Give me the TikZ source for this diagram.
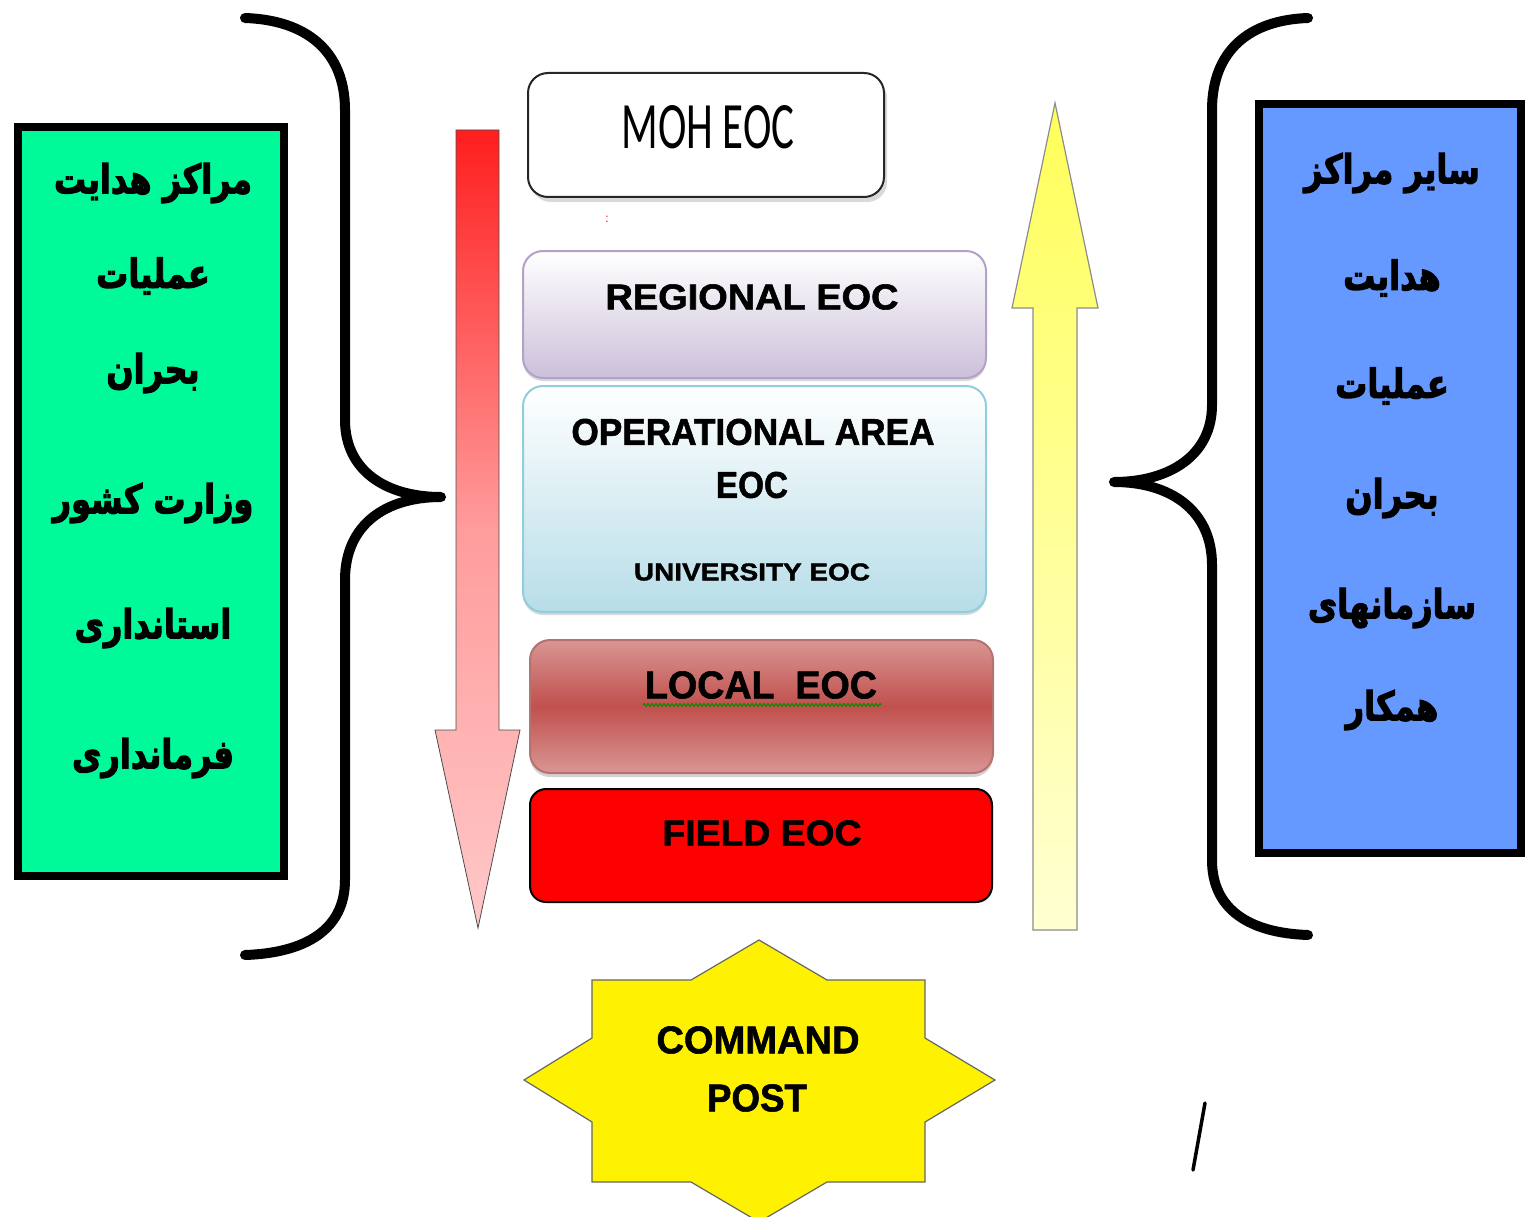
\documentclass[tikz,border=0pt]{standalone}
\usepackage{fontspec}
\usepackage{graphicx}
\setmainfont{Liberation Sans}
\newfontfamily\arabicfont{DejaVu Sans}[Script=Arabic, BoldFeatures={FakeBold=3}]
\newfontfamily\heavy{Liberation Sans}[BoldFeatures={FakeBold=1.5}]
\newfontfamily\calfont{Carlito}
\TeXXeTstate=1
\usetikzlibrary{shadows,decorations.pathmorphing}
\definecolor{boxgreen}{HTML}{00FA9A}
\definecolor{boxblue}{HTML}{6699FF}
\definecolor{lavender}{HTML}{CCC0DA}
\definecolor{lavedge}{HTML}{B3A2C7}
\definecolor{lblue}{HTML}{B7DDE8}
\definecolor{lbedge}{HTML}{92CDDC}
\definecolor{locmid}{HTML}{C0504D}
\definecolor{loclight}{HTML}{D99694}
\definecolor{locedge}{HTML}{943634}
\definecolor{arrred}{HTML}{FF1E1E}
\definecolor{arrpink}{HTML}{FFC8C8}
\definecolor{arrmid}{HTML}{FF9C9C}
\definecolor{arryel}{HTML}{FFFF5A}
\definecolor{arrpale}{HTML}{FFFFD2}
\newcommand{\fitbox}[3]{\resizebox{#1pt}{#2pt}{\heavy\bfseries #3}}
\newcommand{\artext}[1]{\scalebox{1}[1.25]{\arabicfont\bfseries\fontsize{32}{36}\selectfont\beginR #1\endR}}
\begin{document}
\begin{tikzpicture}[x=1pt,y=-1pt,
  sidebox/.style={draw=black, line width=8pt, inner sep=0pt},
  eocbox/.style={rounded corners=20pt, inner sep=0pt, line width=2pt},
  lbl/.style={inner sep=0pt},
  ar/.style={inner sep=0pt},
  brace/.style={line width=10pt, line cap=round, line join=round}]
\useasboundingbox (0,0) rectangle (1528,1217);

% side boxes
\node[sidebox, fill=boxgreen, minimum width=266pt, minimum height=749pt] (gbox) at (151,501.5) {};
\node[sidebox, fill=boxblue, minimum width=262pt, minimum height=749pt] (bbox) at (1390,478.5) {};

% Arabic texts left
\node[ar] (g1) at (153,183) {\artext{مراکز هدایت}};
\node[ar] (g2) at (153,276) {\artext{عملیات}};
\node[ar] (g3) at (153,373) {\artext{بحران}};
\node[ar] (g4) at (153,503) {\artext{وزارت کشور}};
\node[ar] (g5) at (153,628) {\artext{استانداری}};
\node[ar] (g6) at (153,758) {\artext{فرمانداری}};
% Arabic texts right
\node[ar] (b1) at (1392,173) {\artext{سایر مراکز}};
\node[ar] (b2) at (1392,278) {\artext{هدایت}};
\node[ar] (b3) at (1392,386) {\artext{عملیات}};
\node[ar] (b4) at (1392,498) {\artext{بحران}};
\node[ar] (b5) at (1392,608) {\artext{سازمانهای}};
\node[ar] (b6) at (1392,710) {\artext{همکار}};

% braces
\draw[brace] (245,18) .. controls (305,20) and (345,50) .. (345,110)
  -- (345,420) .. controls (345,470) and (385,497) .. (441,497)
  .. controls (385,497) and (345,525) .. (345,580)
  -- (345,880) .. controls (345,930) and (305,953) .. (245,955);
\draw[brace] (1308,18) .. controls (1250,20) and (1212,50) .. (1212,110)
  -- (1212,405) .. controls (1212,455) and (1170,482) .. (1114,482)
  .. controls (1170,482) and (1212,510) .. (1212,565)
  -- (1212,860) .. controls (1212,910) and (1250,933) .. (1308,935);

% arrows
\path[draw=black!70, line width=0.8pt, top color=arrred, bottom color=arrpink, middle color=arrmid]
  (456,130) -- (499,130) -- (499,730) -- (520,730) -- (478,928) -- (435,730) -- (456,730) -- cycle;
\path[draw=black!45, line width=1.2pt, top color=arryel, bottom color=arrpale]
  (1055,103) -- (1098,308) -- (1077,308) -- (1077,930) -- (1033,930) -- (1033,308) -- (1012,308) -- cycle;

% EOC boxes
\node[eocbox, draw=black!85, fill=white, minimum width=356pt, minimum height=124pt,
  drop shadow={opacity=0.3, shadow xshift=3pt, shadow yshift=-5pt}] (moh) at (706,135) {};
\node[inner sep=0pt] (mohtxt) at (708,127) {\resizebox{173pt}{43pt}{\calfont MOH EOC}};
\node[text=red, font=\fontsize{12}{12}\selectfont, inner sep=0pt] (dots) at (607,219) {:};

\node[eocbox, draw=lavedge, top color=white, bottom color=lavender, minimum width=463pt, minimum height=127pt,
  drop shadow={opacity=0.3, shadow xshift=0pt, shadow yshift=-3pt}] (reg) at (754.5,314.5) {};
\node[lbl] (regtxt) at (752,297) {\fitbox{293}{25}{REGIONAL EOC}};

\node[eocbox, draw=lbedge, top color=white, bottom color=lblue, minimum width=463pt, minimum height=226pt,
  drop shadow={opacity=0.3, shadow xshift=0pt, shadow yshift=-3pt}] (opa) at (754.5,499) {};
\node[lbl] (opa1) at (753,432) {\fitbox{363}{26}{OPERATIONAL AREA}};
\node[lbl] (opa2) at (752,485) {\fitbox{72}{26}{EOC}};
\node[lbl] (opa3) at (752,572) {\fitbox{236}{17}{UNIVERSITY EOC}};

\node[eocbox, draw=locedge!70, top color=loclight, bottom color=loclight, middle color=locmid, minimum width=463pt, minimum height=133pt,
  drop shadow={opacity=0.35, shadow xshift=0pt, shadow yshift=-4pt}] (loc) at (761.5,706.5) {};
\node[lbl] (loctxt) at (761,685) {\fitbox{232}{27}{LOCAL\ \ EOC}};
\coordinate (wl) at (643,705);
\coordinate (wr) at (881,705);
\draw[green!55!black, line width=1pt, decorate, decoration={zigzag, segment length=4pt, amplitude=1.5pt}] (wl) -- (wr);

\node[eocbox, rounded corners=16pt, draw=black, fill=red, minimum width=462pt, minimum height=113pt] (field) at (761,845.5) {};
\node[lbl] (fieldtxt) at (762,833) {\fitbox{199}{25}{FIELD EOC}};

% command post star
\path[draw=black!60, line width=1.2pt, fill=yellow]
  (759,940) -- (827,980) -- (925,980) -- (925,1038) -- (995,1080) -- (925,1122) -- (925,1182)
  -- (827,1182) -- (759,1222) -- (691,1182) -- (592,1182) -- (592,1122) -- (524,1080)
  -- (592,1038) -- (592,980) -- (691,980) -- cycle;
\node[lbl] (cp1) at (758,1040) {\fitbox{203}{27}{COMMAND}};
\node[lbl] (cp2) at (757,1098) {\fitbox{100}{27}{POST}};

% stray stroke
\coordinate (s1) at (1205,1103);
\coordinate (s2) at (1193,1170);
\draw[line width=3.5pt, line cap=round] (s1) -- (s2);
\end{tikzpicture}
\end{document}
